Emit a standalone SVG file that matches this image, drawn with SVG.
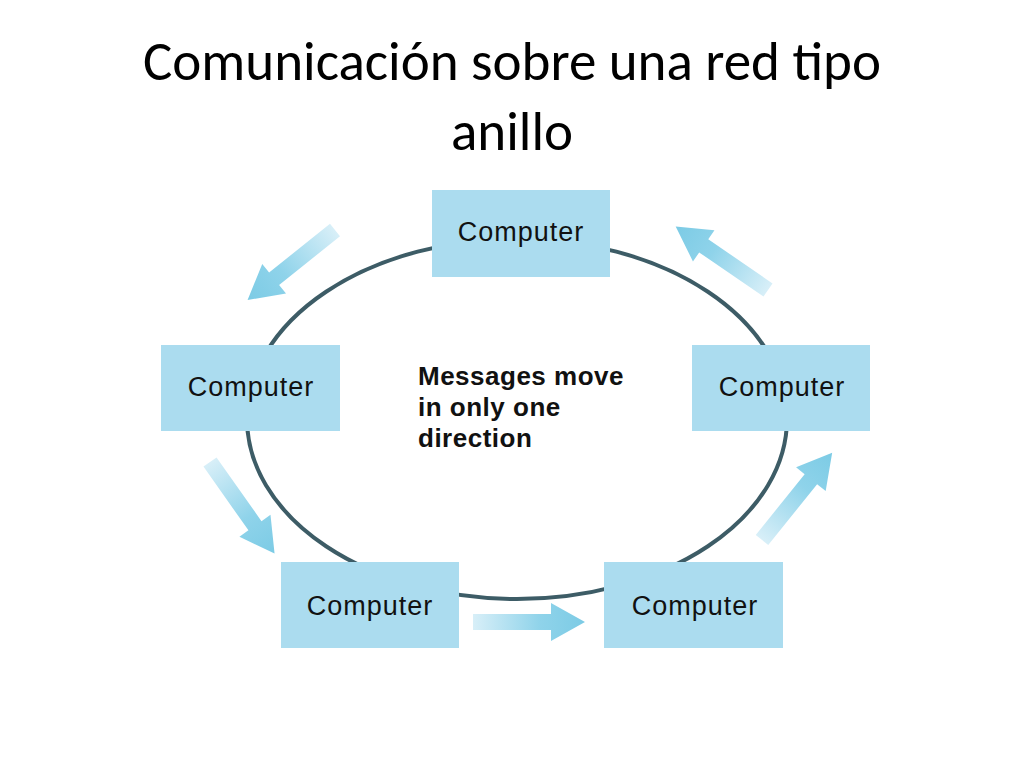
<svg xmlns="http://www.w3.org/2000/svg" xmlns:xlink="http://www.w3.org/1999/xlink" width="1024" height="768" viewBox="0 0 1024 768">
<style>
.box{fill:#abdcef}
.lbl{font-family:"Liberation Sans",Arial,sans-serif;font-size:27px;letter-spacing:1px;fill:#111;text-anchor:middle}
.msg{font-family:"Liberation Sans",Arial,sans-serif;font-size:26px;font-weight:bold;letter-spacing:0.5px;fill:#111}
</style>
<defs>
<linearGradient id="g" x1="0" y1="0" x2="1" y2="0">
<stop offset="0" stop-color="#d8eff8"/>
<stop offset="0.6" stop-color="#8fd3ea"/>
<stop offset="1" stop-color="#7ccbe5"/>
</linearGradient>
<path id="arr" d="M0,-8 L78,-8 L78,-19 L112,0 L78,19 L78,8 L0,8 Z" fill="url(#g)"/>
</defs>
<rect width="1024" height="768" fill="#fff"/>
<text x="512" y="80" font-family="Calibri,Carlito,'Liberation Sans',sans-serif" font-size="55" text-anchor="middle" fill="#000">Comunicación sobre una red tipo</text>
<text x="512" y="150" font-family="Calibri,Carlito,'Liberation Sans',sans-serif" font-size="55" text-anchor="middle" fill="#000">anillo</text>
<g id="connectors">
<ellipse cx="517" cy="419" rx="270" ry="180" fill="none" stroke="#3d5c66" stroke-width="4"/>
<use xlink:href="#arr" transform="translate(335,230) rotate(141.3)"/>
<use xlink:href="#arr" transform="translate(768,290) rotate(214.5)"/>
<use xlink:href="#arr" transform="translate(210,462) rotate(54.8)"/>
<use xlink:href="#arr" transform="translate(473,622) rotate(0)"/>
<use xlink:href="#arr" transform="translate(762,540) rotate(-51.2)"/>
</g>
<g id="n-top"><rect class="box" x="432" y="190" width="178" height="87"/><text class="lbl" x="521" y="241">Computer</text></g>
<g id="n-left"><rect class="box" x="161" y="345" width="179" height="86"/><text class="lbl" x="251" y="396">Computer</text></g>
<g id="n-right"><rect class="box" x="692" y="345" width="178" height="86"/><text class="lbl" x="782" y="396">Computer</text></g>
<g id="n-bl"><rect class="box" x="281" y="562" width="178" height="86"/><text class="lbl" x="370" y="615">Computer</text></g>
<g id="n-br"><rect class="box" x="604" y="562" width="179" height="86"/><text class="lbl" x="695" y="615">Computer</text></g>
<g id="msg"><text class="msg" x="418" y="385">Messages move</text><text class="msg" x="418" y="416">in only one</text><text class="msg" x="418" y="447">direction</text></g>
</svg>
